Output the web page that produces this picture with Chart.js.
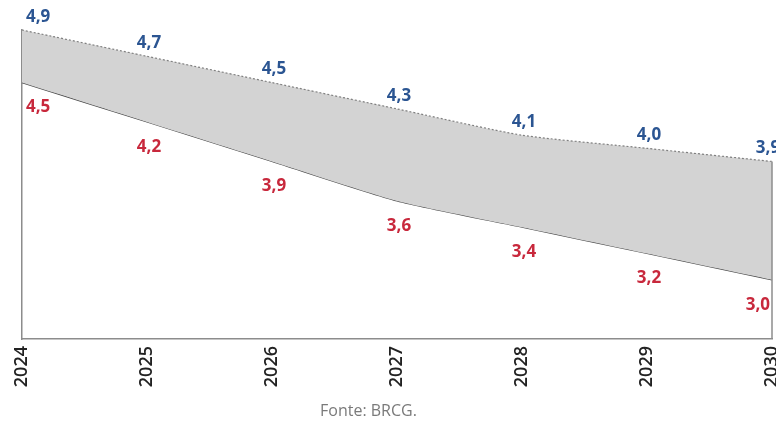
<!DOCTYPE html>
<html lang="pt">
<head>
<meta charset="utf-8">
<title>Projeção</title>
<script src="https://cdn.jsdelivr.net/npm/chart.js@4/dist/chart.umd.min.js"></script>
<style>
  html, body { margin: 0; padding: 0; background: #fff; }
  #wrap { position: relative; width: 776px; height: 428px; }
  #fonte {
    position: absolute; left: 320px; top: 399px;
    font-family: "Open Sans", sans-serif; font-size: 16px; color: #7a7a7a;
  }
</style>
</head>
<body>
<div id="wrap">
  <canvas id="grafico" width="776" height="428"></canvas>
  <div id="fonte">Fonte: BRCG.</div>
</div>
<script>
// anos e as duas séries (limite superior e inferior)
const anos = ["2024", "2025", "2026", "2027", "2028", "2029", "2030"];
const superior = [4.9, 4.7, 4.5, 4.3, 4.1, 4.0, 3.9];
const inferior = [4.5, 4.2, 3.9, 3.6, 3.4, 3.2, 3.0];

const AZUL = "#2b5592";
const VERMELHO = "#c8283c";

// formata com vírgula decimal
function fmt(v) {
  return v.toFixed(1).replace(".", ",");
}

// rótulos de valor sobre/sob cada ponto e a borda direita da faixa
const rotulos = {
  id: "rotulos",
  afterDatasetsDraw(chart) {
    const ctx = chart.ctx;
    const metaSup = chart.getDatasetMeta(0);
    const metaInf = chart.getDatasetMeta(1);
    const ultimo = anos.length - 1;

    // linha vertical no fim da faixa
    const pFim = metaSup.data[ultimo];
    ctx.save();
    ctx.strokeStyle = "#8c8c8c";
    ctx.lineWidth = 1.5;
    ctx.beginPath();
    ctx.moveTo(pFim.x, pFim.y);
    ctx.lineTo(pFim.x, chart.chartArea.bottom);
    ctx.stroke();

    ctx.font = "bold 17px 'Open Sans', sans-serif";
    ctx.textBaseline = "middle";

    superior.forEach((v, i) => {
      const p = metaSup.data[i];
      let x = p.x + 2;
      ctx.textAlign = "center";
      if (i === 0) { ctx.textAlign = "left"; x = p.x + 4; }
      if (i === ultimo) { x = p.x - 4; }
      ctx.fillStyle = AZUL;
      ctx.fillText(fmt(v), x, p.y - 13);
    });

    inferior.forEach((v, i) => {
      const p = metaInf.data[i];
      let x = p.x + 2;
      ctx.textAlign = "center";
      if (i === 0) { ctx.textAlign = "left"; x = p.x + 4; }
      if (i === ultimo) { ctx.textAlign = "right"; x = p.x - 2; }
      ctx.fillStyle = VERMELHO;
      ctx.fillText(fmt(v), x, p.y + 25);
    });
    ctx.restore();
  }
};

new Chart(document.getElementById("grafico"), {
  type: "line",
  data: {
    labels: anos,
    datasets: [
      {
        data: superior,
        borderColor: "#808080",
        borderWidth: 1.2,
        borderDash: [2, 2],
        pointRadius: 0,
        tension: 0.2,
        fill: "+1",
        backgroundColor: "#d3d3d3",
        clip: false
      },
      {
        data: inferior,
        borderColor: "#4a4a4a",
        borderWidth: 1.2,
        pointRadius: 0,
        tension: 0.2,
        fill: false,
        clip: false
      }
    ]
  },
  options: {
    responsive: false,
    animation: false,
    layout: { padding: { top: 30, left: 22, right: 4, bottom: 0 } },
    plugins: {
      legend: { display: false },
      tooltip: { enabled: false }
    },
    scales: {
      x: {
        offset: false,
        grid: { display: false, drawTicks: false },
        border: { color: "#8c8c8c", width: 1.5 },
        ticks: {
          minRotation: 90,
          maxRotation: 90,
          padding: 7,
          color: "#222",
          font: { family: "'Open Sans', sans-serif", size: 18, weight: "600" }
        },
        afterFit(s) {
          s.height = 89;
          s.paddingLeft = 0;
          s.paddingRight = 0;
        }
      },
      y: {
        min: 2.55,
        max: 4.9,
        grid: { display: false, drawTicks: false },
        border: { color: "#8c8c8c", width: 1.5 },
        ticks: { display: false },
        afterFit(s) { s.width = 0; }
      }
    }
  },
  plugins: [rotulos]
});
</script>
</body>
</html>
